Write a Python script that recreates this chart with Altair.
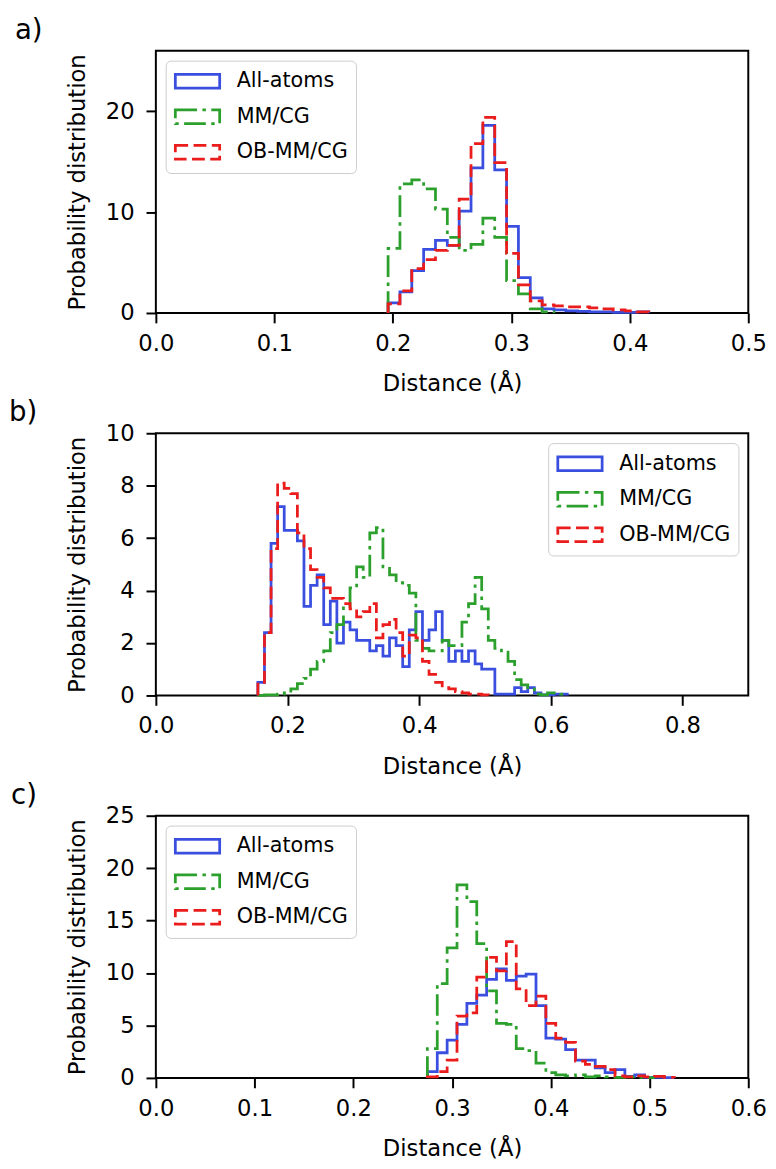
import altair as alt
import pandas as pd

SERIES = ["All-atoms", "MM/CG", "OB-MM/CG"]
COLORS = ["#3a4fe0", "#2ca02c", "#ea1c1c"]
DASHES = [[1, 0], [22, 5.5, 3.5, 5.5], [13, 5.5]]

# ---- panel a) ----
A_BIN_START = 0.196
A_BIN_WIDTH = 0.01
A_ALL = [1.0, 2.1, 4.2, 6.3, 7.2, 6.7, 10.1, 14.4, 18.6, 14.2, 8.6, 3.5, 1.5, 0.4,
         0.3, 0.2, 0.15, 0.1, 0.1, 0.05, 0.05, 0.1]
A_MMCG = [6.4, 12.8, 13.2, 12.3, 10.3, 7.5, 6.2, 6.8, 9.4, 7.5, 3.2, 1.9, 0.4, 0.1]
A_OB = [0.9, 2.2, 4.4, 5.3, 6.2, 6.7, 11.3, 16.8, 19.4, 14.9, 5.9, 2.8, 1.2, 0.8,
        0.7, 0.6, 0.6, 0.5, 0.4, 0.3, 0.2, 0.1]
A_XTICKS = [0.0, 0.1, 0.2, 0.3, 0.4, 0.5]
A_YTICKS = [0, 10, 20]

# ---- panel b) ----
B_BIN_START = 0.155
B_BIN_WIDTH = 0.01
B_ALL = [0.5, 2.4, 5.8, 7.2, 6.3, 6.3, 5.9, 3.4, 4.2, 4.6, 2.7, 3.6, 2.0, 2.8, 2.5,
         2.1, 2.1, 1.7, 1.9, 1.5, 2.2, 1.9, 1.1, 2.5, 3.2, 2.1, 2.5, 3.2, 2.1, 1.3,
         1.7, 1.3, 1.7, 1.2, 1.0, 1.0, 0.05, 0.05, 0.05, 0.3, 0.15, 0.3, 0.1, 0.02,
         0.02, 0.05, 0.05]
B_MMCG = [0.0, 0.02, 0.02, 0.05, 0.1, 0.25, 0.45, 0.65, 1.0, 1.3, 1.7, 2.4, 2.7, 3.4,
          4.1, 4.9, 4.5, 6.2, 6.4, 4.9, 4.6, 4.3, 4.2, 3.9, 2.1, 1.8, 1.7, 1.7, 2.1,
          1.9, 1.9, 2.8, 3.5, 4.5, 3.3, 2.1, 1.8, 1.65, 1.3, 0.6, 0.4, 0.3, 0.05,
          0.02, 0.1, 0.1, 0.05]
B_OB = [0.5, 2.4, 5.6, 8.1, 7.9, 7.7, 6.2, 5.6, 4.8, 4.5, 4.1, 3.7, 3.7, 3.5, 3.3,
        3.0, 3.2, 3.5, 2.2, 2.7, 2.9, 2.4, 1.5, 2.3, 2.2, 1.3, 0.8, 0.5, 0.3, 0.25,
        0.15, 0.1, 0.05, 0.05, 0.02]
B_XTICKS = [0.0, 0.2, 0.4, 0.6, 0.8]
B_YTICKS = [0, 2, 4, 6, 8, 10]

# ---- panel c) ----
C_BIN_START = 0.275
C_BIN_WIDTH = 0.01
C_ALL = [0.6, 2.4, 3.6, 5.1, 7.1, 7.9, 9.4, 10.4, 9.3, 9.7, 9.9, 6.9, 3.8, 3.7, 2.7,
         1.7, 1.7, 0.95, 0.5, 0.8, 0.15, 0.3, 0.05, 0.05, 0.02]
C_MMCG = [2.8, 9.0, 12.4, 18.4, 16.8, 12.8, 8.3, 5.2, 5.1, 2.8, 2.6, 1.4, 0.5, 0.3,
          0.2, 0.3, 0.1, 0.2, 0.1, 0.05, 0.1, 0.05, 0.02]
C_OB = [0.1, 0.6, 1.7, 5.9, 6.2, 9.6, 11.5, 10.2, 13.0, 8.5, 6.9, 7.8, 5.2, 3.8, 3.4,
        1.6, 1.3, 1.1, 0.8, 0.2, 0.1, 0.2, 0.1, 0.15, 0.05]
C_XTICKS = [0.0, 0.1, 0.2, 0.3, 0.4, 0.5, 0.6]
C_YTICKS = [0, 5, 10, 15, 20, 25]

PANEL_LABELS = ["a)", "b)", "c)"]


def step_rows(start, width, values, name):
    """Outline of a step histogram (matplotlib histtype='step')."""
    rows = [{"x": start, "y": 0.0, "series": name, "i": 0}]
    for j, v in enumerate(values):
        rows.append({"x": start + width * j, "y": v, "series": name, "i": j + 1})
    rows.append({"x": start + width * len(values), "y": 0.0, "series": name,
                 "i": len(values) + 1})
    return rows


def frame(start, width, all_v, mm_v, ob_v):
    rows = (step_rows(start, width, all_v, SERIES[0])
            + step_rows(start, width, mm_v, SERIES[1])
            + step_rows(start, width, ob_v, SERIES[2]))
    return pd.DataFrame(rows)


def panel(df, label, label_dx, xmax, xticks, ymax, yticks, legend_orient):
    legend = alt.Legend(
        title=None, orient=legend_orient, offset=10,
        symbolType="M-1,-0.62H3V0.62H-1Z", symbolSize=506,
        symbolStrokeWidth=2.8, symbolFillColor="transparent",
        labelFontSize=21, labelOffset=38, labelFont="DejaVu Sans",
        labelColor="black", padding=8, rowPadding=10,
        fillColor="white", strokeColor="#cccccc", cornerRadius=5,
    )
    lines = alt.Chart(df).mark_line(
        interpolate="step-after", strokeWidth=2.8, strokeCap="butt"
    ).encode(
        x=alt.X("x:Q", scale=alt.Scale(domain=[0, xmax], nice=False, zero=False),
                axis=alt.Axis(values=xticks, format=".1f", title="Distance (Å)")),
        y=alt.Y("y:Q", scale=alt.Scale(domain=[0, ymax], nice=False),
                axis=alt.Axis(values=yticks, format="d",
                              title="Probability distribution")),
        color=alt.Color("series:N", scale=alt.Scale(domain=SERIES, range=COLORS),
                        legend=legend),
        strokeDash=alt.StrokeDash("series:N",
                                  scale=alt.Scale(domain=SERIES, range=DASHES),
                                  legend=legend),
        order=alt.Order("i:Q"),
    )
    tag = alt.Chart(pd.DataFrame({"label": [label]})).mark_text(
        align="left", baseline="top", fontSize=28, font="DejaVu Sans", color="black"
    ).encode(text="label:N", x=alt.value(label_dx), y=alt.value(-34))
    return alt.layer(lines, tag).properties(width=601, height=266)


pa = panel(frame(A_BIN_START, A_BIN_WIDTH, A_ALL, A_MMCG, A_OB),
           PANEL_LABELS[0], -143, 0.5, A_XTICKS, 26, A_YTICKS, "top-left")
pb = panel(frame(B_BIN_START, B_BIN_WIDTH, B_ALL, B_MMCG, B_OB),
           PANEL_LABELS[1], -149, 0.9, B_XTICKS, 10, B_YTICKS, "top-right")
pc = panel(frame(C_BIN_START, C_BIN_WIDTH, C_ALL, C_MMCG, C_OB),
           PANEL_LABELS[2], -147, 0.6, C_XTICKS, 25, C_YTICKS, "top-left")

chart = (
    alt.vconcat(pa, pb, pc, spacing=2)
    .resolve_scale(color="independent", strokeDash="independent")
    .resolve_legend(color="independent", strokeDash="independent")
    .properties(padding=0)
    .configure(font="DejaVu Sans")
    .configure_view(stroke="black", strokeWidth=2)
    .configure_axis(
        domain=False, grid=False, tickColor="black", tickWidth=2, tickSize=10,
        labelFontSize=23, titleFontSize=23, labelColor="black", titleColor="black",
        titleFontWeight="normal", labelFont="DejaVu Sans", titleFont="DejaVu Sans",
        labelFlush=False, labelOverlap=False,
    )
    .configure_axisX(labelPadding=10, titlePadding=18)
    .configure_axisY(labelPadding=12, titlePadding=16)
)

chart.save("out.html", embed_options={"renderer": "svg", "actions": False})
